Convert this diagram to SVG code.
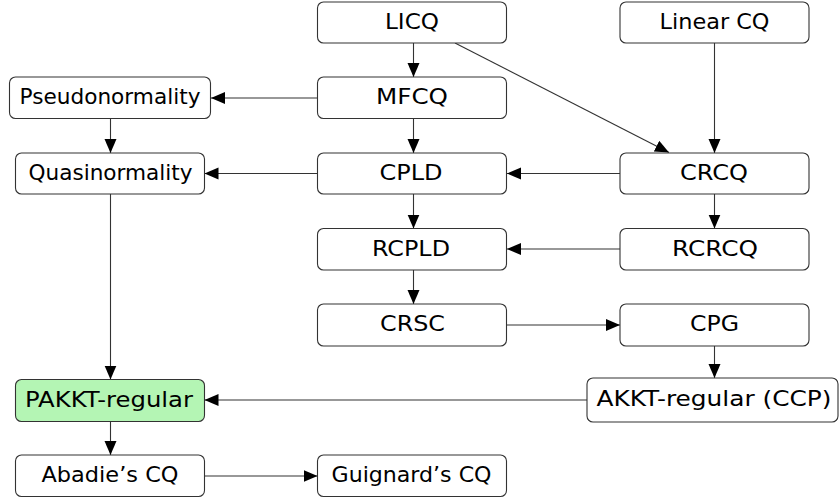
<svg xmlns="http://www.w3.org/2000/svg" width="839" height="500" viewBox="0 0 839 500">
<defs>
<style>
.box{fill:#ffffff;stroke:#333333;stroke-width:1.1}
.green{fill:#b4f5b4}
.lbl{font-family:"DejaVu Sans","Liberation Sans",sans-serif;font-size:20.5px;fill:#000000;text-anchor:middle}
.edge{stroke:#333333;stroke-width:1.1;fill:none;marker-end:url(#arr)}
</style>
<marker id="arr" markerUnits="userSpaceOnUse" markerWidth="16" markerHeight="14" refX="14" refY="6" orient="auto">
<path d="M0,0 L14,6 L0,12 z" fill="#000000"/>
</marker>
</defs>
<rect width="839" height="500" fill="#ffffff"/>
<g id="edges">
<line class="edge" x1="413.5" y1="43" x2="413.5" y2="77"/>
<line class="edge" x1="413.5" y1="118.5" x2="413.5" y2="153"/>
<line class="edge" x1="413.5" y1="194" x2="413.5" y2="228.5"/>
<line class="edge" x1="413.5" y1="270" x2="413.5" y2="304"/>
<line class="edge" x1="714.5" y1="43" x2="714.5" y2="153"/>
<line class="edge" x1="714.5" y1="194" x2="714.5" y2="228.5"/>
<line class="edge" x1="714.5" y1="346" x2="714.5" y2="378"/>
<line class="edge" x1="110.5" y1="118.5" x2="110.5" y2="153"/>
<line class="edge" x1="110.5" y1="194" x2="110.5" y2="379.5"/>
<line class="edge" x1="110.5" y1="421.5" x2="110.5" y2="455"/>
<line class="edge" x1="455" y1="43" x2="669" y2="152.5"/>
<line class="edge" x1="317.5" y1="98" x2="211" y2="98"/>
<line class="edge" x1="317.5" y1="173.5" x2="204.5" y2="173.5"/>
<line class="edge" x1="620" y1="173.5" x2="507" y2="173.5"/>
<line class="edge" x1="620" y1="249" x2="507" y2="249"/>
<line class="edge" x1="507" y1="325" x2="620" y2="325"/>
<line class="edge" x1="587" y1="400" x2="204.5" y2="400"/>
<line class="edge" x1="204" y1="476" x2="317.5" y2="476"/>
</g>
<g id="licq"><rect class="box" x="317.5" y="2" width="189" height="41" rx="6"/><text class="lbl" x="412" y="28.5" textLength="54" lengthAdjust="spacingAndGlyphs">LICQ</text></g>
<g id="linearcq"><rect class="box" x="620" y="2" width="189" height="41" rx="6"/><text class="lbl" x="714.5" y="28.5" textLength="110" lengthAdjust="spacingAndGlyphs">Linear CQ</text></g>
<g id="pseudo"><rect class="box" x="9.5" y="77" width="201" height="41.5" rx="6"/><text class="lbl" x="110" y="104" textLength="181" lengthAdjust="spacingAndGlyphs">Pseudonormality</text></g>
<g id="mfcq"><rect class="box" x="317.5" y="77" width="189" height="41.5" rx="6"/><text class="lbl" x="412" y="104" textLength="72" lengthAdjust="spacingAndGlyphs">MFCQ</text></g>
<g id="quasi"><rect class="box" x="15.5" y="153" width="189" height="41" rx="6"/><text class="lbl" x="110.5" y="179.5" textLength="164" lengthAdjust="spacingAndGlyphs">Quasinormality</text></g>
<g id="cpld"><rect class="box" x="317.5" y="153" width="189" height="41" rx="6"/><text class="lbl" x="411" y="179.5" textLength="63" lengthAdjust="spacingAndGlyphs">CPLD</text></g>
<g id="crcq"><rect class="box" x="620" y="153" width="189" height="41" rx="6"/><text class="lbl" x="714" y="179.5" textLength="68" lengthAdjust="spacingAndGlyphs">CRCQ</text></g>
<g id="rcpld"><rect class="box" x="317.5" y="228.5" width="189" height="41.5" rx="6"/><text class="lbl" x="411" y="255.5" textLength="78" lengthAdjust="spacingAndGlyphs">RCPLD</text></g>
<g id="rcrcq"><rect class="box" x="620" y="228.5" width="189" height="41.5" rx="6"/><text class="lbl" x="715" y="255.5" textLength="86" lengthAdjust="spacingAndGlyphs">RCRCQ</text></g>
<g id="crsc"><rect class="box" x="317.5" y="304" width="189" height="42" rx="6"/><text class="lbl" x="412.5" y="331" textLength="65" lengthAdjust="spacingAndGlyphs">CRSC</text></g>
<g id="cpg"><rect class="box" x="620" y="304" width="189" height="42" rx="6"/><text class="lbl" x="714.5" y="331" textLength="49" lengthAdjust="spacingAndGlyphs">CPG</text></g>
<g id="pakkt"><rect class="box green" x="15.5" y="379.5" width="189" height="42" rx="6"/><text class="lbl" x="109" y="406.5" textLength="168" lengthAdjust="spacingAndGlyphs">PAKKT-regular</text></g>
<g id="akkt"><rect class="box" x="587" y="378" width="251" height="44" rx="6"/><text class="lbl" x="714" y="406" textLength="235" lengthAdjust="spacingAndGlyphs">AKKT-regular (CCP)</text></g>
<g id="abadie"><rect class="box" x="15.5" y="455" width="189" height="41.5" rx="6"/><text class="lbl" x="110" y="482" textLength="137" lengthAdjust="spacingAndGlyphs">Abadie’s CQ</text></g>
<g id="guignard"><rect class="box" x="317.5" y="455" width="189" height="41.5" rx="6"/><text class="lbl" x="411.5" y="482" textLength="160" lengthAdjust="spacingAndGlyphs">Guignard’s CQ</text></g>
</svg>
